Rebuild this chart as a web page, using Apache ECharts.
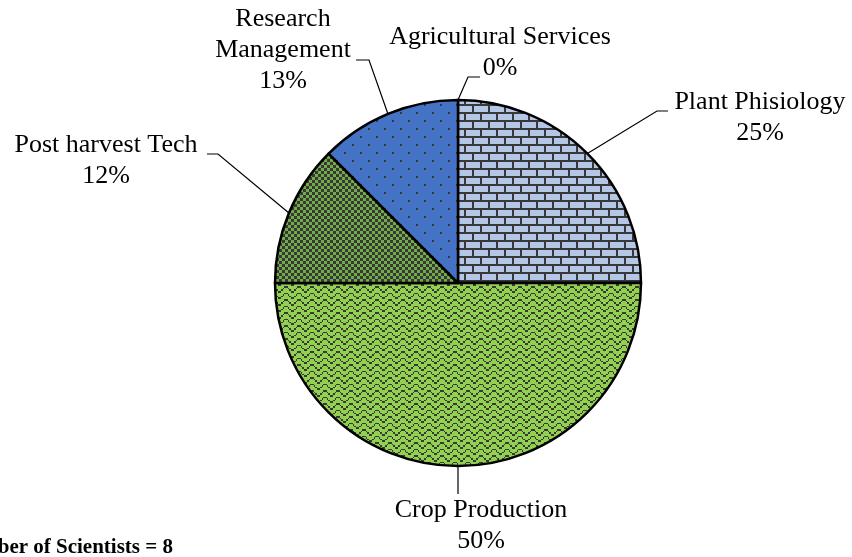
<!DOCTYPE html>
<html><head><meta charset="utf-8">
<script src="https://cdn.jsdelivr.net/npm/echarts@6/dist/echarts.min.js"></script>
<style>html,body{margin:0;padding:0;background:#fff}#c{width:852px;height:557px}</style>
</head><body><div id="c"></div>
<script>
// ---- data ----
const categories = ['Agricultural Services', 'Plant Phisiology', 'Crop Production', 'Post harvest Tech', 'Research Management'];
const scientists = [0, 2, 4, 1, 1];
const percentLabels = ['0%', '25%', '50%', '12%', '13%'];
const footnote = 'Number of Scientists = 8';

// ---- label layout (text anchors and leader bends) ----
const labelAnchors = [[500, 53], [760, 118], [481, 526], [106, 161], [283, 50]];
const leaderBends = [[468, 77], [657, 111], [458, 494], [218, 154], [369, 60]];
const leaderEnds = [[480, 77], [668, 111], [458, 494], [207, 154], [356, 60]];

// ---- fill patterns ----
const DARK = '#383838';
function tile(w, h, bg, draw) {
  const c = document.createElement('canvas'); c.width = w; c.height = h;
  const g = c.getContext('2d'); g.fillStyle = bg; g.fillRect(0, 0, w, h);
  g.fillStyle = DARK; draw(g); return c;
}
function bitmapTile(rows, size, bg) {
  const src = tile(8, 8, bg, g => {
    rows.forEach((r, y) => { for (let x = 0; x < 8; x++) if (r[x] === '1') g.fillRect(x, y, 1, 1); });
  });
  const c = document.createElement('canvas'); c.width = size; c.height = size;
  const g = c.getContext('2d'); g.imageSmoothingEnabled = false; g.drawImage(src, 0, 0, size, size);
  return c;
}
const brick = tile(16, 16, '#B4C7E7', g => {
  g.fillRect(0, 0, 16, 2); g.fillRect(0, 8, 16, 2);
  g.fillRect(0, 2, 2, 6); g.fillRect(8, 10, 2, 6);
});
const dots = tile(16, 16, '#4472C4', g => { g.fillRect(0, 0, 2, 2); g.fillRect(8, 8, 2, 2); });
const checker = tile(6, 6, '#70AD47', g => { g.fillRect(0, 0, 3, 3); g.fillRect(3, 3, 3, 3); });
const zigzag = bitmapTile(['10000001', '01000010', '00100100', '00011000', '10000001', '01000010', '00100100', '00011000'], 13, '#92D050');
const patterns = [dots, brick, zigzag, checker, dots];

const chart = echarts.init(document.getElementById('c'), null, { renderer: 'canvas' });
const FONT = "'Liberation Serif', 'Times New Roman', serif";

chart.setOption({
  animation: false,
  backgroundColor: '#fff',
  graphic: [{
    type: 'text', x: 173, y: 548,
    style: { text: footnote, align: 'right', verticalAlign: 'middle', font: "bold 21px " + FONT, fill: '#000' }
  }],
  series: [{
    type: 'pie',
    center: [458, 283],
    radius: 183,
    startAngle: 90,
    clockwise: true,
    avoidLabelOverlap: false,
    silent: true,
    data: categories.map((name, i) => ({
      name: name, value: scientists[i],
      itemStyle: { color: { image: patterns[i], repeat: 'repeat' } }
    })),
    itemStyle: { borderColor: '#000', borderWidth: 2.5 },
    label: {
      show: true, position: 'outside',
      formatter: p => (p.name === 'Research Management' ? 'Research\nManagement' : p.name) + '\n' + percentLabels[p.dataIndex],
      fontFamily: FONT, fontSize: 26, lineHeight: 31, color: '#000', align: 'center'
    },
    labelLine: { show: true, length: 20, length2: 10, smooth: false, lineStyle: { color: '#000', width: 1.2 } },
    labelLayout: function (params) {
      const i = params.dataIndex;
      const start = params.labelLinePoints ? params.labelLinePoints[0] : leaderBends[i];
      return {
        x: labelAnchors[i][0], y: labelAnchors[i][1],
        align: 'center', verticalAlign: 'middle',
        labelLinePoints: [start, leaderBends[i], leaderEnds[i]]
      };
    },
    emphasis: { disabled: true }
  }]
});
</script></body></html>
